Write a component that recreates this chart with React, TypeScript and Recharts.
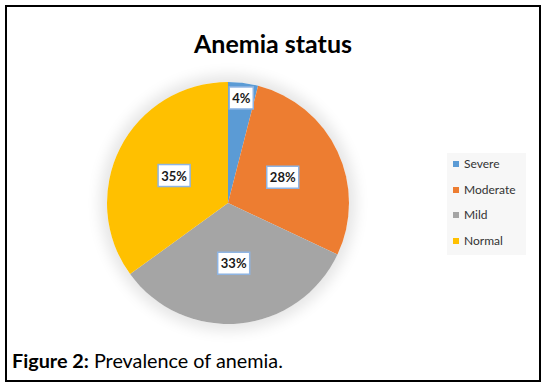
import { PieChart, Pie, Cell } from "recharts";

const categories = ["Severe", "Moderate", "Mild", "Normal"];
const percentages = [4, 28, 33, 35];
const colors = ["#5B9BD5", "#ED7D31", "#A5A5A5", "#FFC000"];

const data = categories.map((name, i) => ({ name, value: percentages[i] }));

const FONT = "Lato, 'Liberation Sans', sans-serif";
const CX = 228;
const CY = 203;
const R = 121;

const RADIAN = Math.PI / 180;

const renderLabel = (props: any) => {
  const { cx, cy, midAngle, outerRadius, percent, value } = props;
  // small slices get pushed out towards the rim, like Excel's best fit
  const r = percent < 0.1 ? outerRadius * 0.875 : outerRadius * 0.5;
  const x = cx + r * Math.cos(-midAngle * RADIAN);
  const y = cy + r * Math.sin(-midAngle * RADIAN);
  const text = `${value}%`;
  const w = text.length * 8 + 8;
  return (
    <g>
      <rect x={x - w / 2} y={y - 11} width={w} height={22} fill="#ffffff" stroke="#8EB4E3" strokeWidth={1.5} />
      <text
        x={x}
        y={y}
        textAnchor="middle"
        dominantBaseline="central"
        fontFamily={FONT}
        fontWeight={700}
        fontSize={13}
        fill="#1a1a1a"
      >
        {text}
      </text>
    </g>
  );
};

export default function App() {
  return (
    <div
      style={{
        position: "absolute",
        left: 0,
        top: 0,
        width: 548,
        height: 389,
        background: "#ffffff",
        fontFamily: FONT,
      }}
    >
      <div
        style={{
          position: "absolute",
          left: 5,
          top: 5,
          width: 536,
          height: 377,
          border: "2px solid #000",
          boxSizing: "border-box",
        }}
      />
      {/* soft glow behind the pie */}
      <div
        style={{
          position: "absolute",
          left: CX - R,
          top: CY - R,
          width: R * 2,
          height: R * 2,
          borderRadius: "50%",
          boxShadow: "0 0 14px 7px rgba(0,0,0,0.10)",
        }}
      />
      <div style={{ position: "absolute", left: 0, top: 0 }}>
        <PieChart width={548} height={389} margin={{ top: 0, right: 0, bottom: 0, left: 0 }}>
          <Pie
            data={data}
            dataKey="value"
            nameKey="name"
            cx={CX}
            cy={CY}
            outerRadius={R}
            startAngle={90}
            endAngle={-270}
            stroke="none"
            label={renderLabel}
            labelLine={false}
            isAnimationActive={false}
          >
            {data.map((d, i) => (
              <Cell key={d.name} fill={colors[i]} />
            ))}
          </Pie>
        </PieChart>
      </div>
      <svg width={548} height={389} style={{ position: "absolute", left: 0, top: 0, pointerEvents: "none" }}>
        <text x={273} y={53} textAnchor="middle" fontFamily={FONT} fontWeight={700} fontSize={25} fill="#000">
          Anemia status
        </text>
        <text x={12} y={368} fontFamily={FONT} fontSize={19.8} fill="#000">
          <tspan fontWeight={700}>Figure 2:</tspan>
          <tspan> Prevalence of anemia.</tspan>
        </text>
      </svg>
      <div
        style={{
          position: "absolute",
          left: 447,
          top: 153,
          width: 79,
          height: 102,
          background: "#f7f7f7",
        }}
      >
        {categories.map((c, i) => (
          <div
            key={c}
            style={{
              position: "absolute",
              left: 6,
              top: 11 + i * 25.5 - 7,
              height: 14,
              lineHeight: "14px",
              display: "flex",
              alignItems: "center",
              fontSize: 12,
              color: "#333333",
              whiteSpace: "nowrap",
            }}
          >
            <span style={{ display: "inline-block", width: 6, height: 6, background: colors[i], marginRight: 5 }} />
            {c}
          </div>
        ))}
      </div>
    </div>
  );
}
